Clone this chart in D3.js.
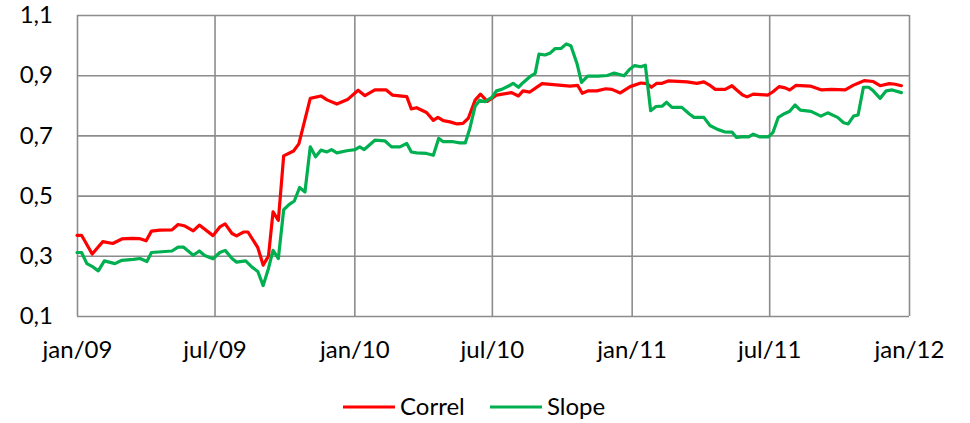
<!DOCTYPE html>
<html>
<head>
<meta charset="utf-8">
<script src="https://cdn.jsdelivr.net/npm/d3@7"></script>
<style>
  html, body { margin: 0; padding: 0; background: #fff; }
  svg { display: block; }
  text { font-family: Lato, "Open Sans", sans-serif; fill: #000; }
</style>
</head>
<body>
<svg id="chart" width="970" height="423"></svg>
<script>
// ---- DATA ----
const seriesNames = ["Correl", "Slope"];
const seriesColors = ["#ff0000", "#00b050"];

const xTickDates = ["2009-01-01", "2009-07-01", "2010-01-01", "2010-07-01", "2011-01-01", "2011-07-01", "2012-01-01"];
const xTickLabels = ["jan/09", "jul/09", "jan/10", "jul/10", "jan/11", "jul/11", "jan/12"];
const yTicks = [0.1, 0.3, 0.5, 0.7, 0.9, 1.1];

const correlDates = [
  "2009-01-01","2009-01-07","2009-01-21","2009-02-04","2009-02-17","2009-03-01","2009-03-14","2009-03-25","2009-04-02","2009-04-09",
  "2009-04-20","2009-05-06","2009-05-14","2009-05-22","2009-06-03","2009-06-11","2009-06-29","2009-07-08","2009-07-15","2009-07-24",
  "2009-07-30","2009-08-08","2009-08-14","2009-08-27","2009-09-03","2009-09-10","2009-09-16","2009-09-23","2009-09-30","2009-10-13",
  "2009-10-20","2009-11-04","2009-11-18","2009-11-26","2009-12-09","2009-12-23","2010-01-06","2010-01-15","2010-01-28","2010-02-12",
  "2010-02-20","2010-03-11","2010-03-17","2010-03-24","2010-04-06","2010-04-15","2010-04-21","2010-04-28","2010-05-07","2010-05-16",
  "2010-05-24","2010-05-31","2010-06-09","2010-06-16","2010-06-25","2010-07-07","2010-07-27","2010-08-05","2010-08-11","2010-08-20",
  "2010-09-05","2010-09-20","2010-10-12","2010-10-22","2010-10-28","2010-11-05","2010-11-16","2010-11-28","2010-12-06","2010-12-17",
  "2010-12-30","2011-01-13","2011-01-21","2011-01-27","2011-02-03","2011-02-10","2011-02-18","2011-03-15","2011-03-28","2011-04-06",
  "2011-04-13","2011-04-21","2011-05-04","2011-05-13","2011-05-20","2011-05-27","2011-06-02","2011-06-10","2011-06-29","2011-07-06",
  "2011-07-14","2011-07-22","2011-07-28","2011-08-05","2011-08-24","2011-09-08","2011-09-21","2011-10-09","2011-10-20","2011-10-26",
  "2011-11-03","2011-11-15","2011-11-24","2011-12-06","2011-12-14","2011-12-22"
];
const correlValues = [
  0.368,0.368,0.306,0.347,0.341,0.356,0.358,0.357,0.350,0.382,
  0.385,0.386,0.404,0.400,0.383,0.402,0.367,0.396,0.406,0.374,
  0.366,0.379,0.379,0.327,0.269,0.299,0.446,0.418,0.632,0.648,
  0.672,0.823,0.831,0.818,0.804,0.819,0.850,0.832,0.851,0.851,
  0.834,0.829,0.788,0.792,0.776,0.750,0.760,0.749,0.745,0.738,
  0.740,0.757,0.817,0.837,0.813,0.834,0.842,0.831,0.848,0.844,
  0.872,0.869,0.864,0.866,0.840,0.848,0.848,0.855,0.853,0.841,
  0.862,0.874,0.872,0.860,0.873,0.873,0.881,0.878,0.873,0.878,
  0.868,0.853,0.853,0.865,0.849,0.834,0.828,0.837,0.834,0.845,
  0.862,0.858,0.851,0.866,0.864,0.851,0.853,0.851,0.867,0.873,
  0.882,0.879,0.865,0.872,0.870,0.865
];

const slopeDates = [
  "2009-01-01","2009-01-07","2009-01-14","2009-01-22","2009-01-29","2009-02-06","2009-02-20","2009-03-01","2009-03-16","2009-03-25",
  "2009-04-03","2009-04-09","2009-05-06","2009-05-14","2009-05-21","2009-06-03","2009-06-11","2009-06-18","2009-06-29","2009-07-08",
  "2009-07-15","2009-07-24","2009-07-30","2009-08-11","2009-08-20","2009-08-27","2009-09-03","2009-09-10","2009-09-16","2009-09-23",
  "2009-09-30","2009-10-07","2009-10-14","2009-10-21","2009-10-28","2009-11-04","2009-11-11","2009-11-18","2009-11-26","2009-12-02",
  "2009-12-09","2009-12-22","2010-01-02","2010-01-08","2010-01-14","2010-01-19","2010-01-28","2010-02-10","2010-02-19","2010-03-02",
  "2010-03-11","2010-03-17","2010-03-24","2010-04-06","2010-04-15","2010-04-22","2010-04-28","2010-05-11","2010-05-20","2010-05-27",
  "2010-06-02","2010-06-09","2010-06-15","2010-06-22","2010-07-01","2010-07-07","2010-07-14","2010-07-23","2010-07-29","2010-08-05",
  "2010-08-11","2010-08-20","2010-08-27","2010-09-01","2010-09-09","2010-09-16","2010-09-22","2010-09-30","2010-10-07","2010-10-13",
  "2010-10-21","2010-10-27","2010-11-04","2010-11-18","2010-11-30","2010-12-09","2010-12-22","2010-12-29","2011-01-05","2011-01-13",
  "2011-01-19","2011-01-26","2011-02-02","2011-02-10","2011-02-16","2011-02-23","2011-03-08","2011-03-18","2011-03-24","2011-04-06",
  "2011-04-14","2011-04-24","2011-05-03","2011-05-13","2011-05-19","2011-05-28","2011-06-04","2011-06-10","2011-06-19","2011-06-30",
  "2011-07-06","2011-07-13","2011-07-21","2011-07-28","2011-08-04","2011-08-11","2011-08-25","2011-09-07","2011-09-16","2011-09-29",
  "2011-10-07","2011-10-13","2011-10-20","2011-10-26","2011-11-02","2011-11-09","2011-11-15","2011-11-24","2011-12-02","2011-12-10",
  "2011-12-22"
];
const slopeValues = [
  0.311,0.311,0.274,0.263,0.250,0.283,0.274,0.285,0.288,0.291,
  0.281,0.311,0.316,0.329,0.329,0.302,0.316,0.301,0.290,0.311,
  0.318,0.291,0.279,0.283,0.261,0.248,0.201,0.258,0.318,0.291,
  0.453,0.470,0.482,0.527,0.512,0.662,0.629,0.651,0.645,0.653,
  0.642,0.649,0.653,0.662,0.653,0.664,0.684,0.682,0.662,0.662,
  0.673,0.645,0.642,0.640,0.634,0.690,0.679,0.679,0.675,0.675,
  0.723,0.797,0.817,0.812,0.826,0.848,0.853,0.864,0.873,0.860,
  0.875,0.895,0.906,0.970,0.967,0.974,0.988,0.989,1.004,0.998,
  0.939,0.876,0.897,0.897,0.899,0.907,0.898,0.919,0.932,0.928,
  0.933,0.782,0.796,0.797,0.810,0.793,0.793,0.771,0.760,0.760,
  0.733,0.720,0.712,0.711,0.693,0.696,0.695,0.704,0.695,0.695,
  0.710,0.760,0.772,0.780,0.801,0.784,0.780,0.764,0.775,0.760,
  0.742,0.738,0.764,0.768,0.860,0.860,0.848,0.823,0.848,0.851,
  0.842
];

// ---- CHART ----
const W = 970, H = 423;
const margin = { top: 15, right: 61, bottom: 107, left: 77 };
const parse = d3.timeParse("%Y-%m-%d");
const svg = d3.select("#chart");

const x = d3.scaleTime()
  .domain([parse(xTickDates[0]), parse(xTickDates[xTickDates.length - 1])])
  .range([margin.left, W - margin.right]);
const y = d3.scaleLinear()
  .domain([yTicks[0], yTicks[yTicks.length - 1]])
  .range([H - margin.bottom, margin.top]);

const gridColor = "#8c8c8c";
const fontSize = 24;
const fontFamily = "Lato, 'Open Sans', sans-serif";

// horizontal gridlines
svg.append("g")
  .attr("transform", `translate(${margin.left},0)`)
  .call(d3.axisLeft(y).tickValues(yTicks).tickSize(-(W - margin.left - margin.right)).tickFormat(""))
  .call(g => g.select(".domain").remove())
  .call(g => g.selectAll("line").attr("stroke", gridColor).attr("stroke-width", 1.6));

// vertical gridlines
svg.append("g")
  .attr("transform", `translate(0,${margin.top})`)
  .call(d3.axisBottom(x).tickValues(xTickDates.map(parse)).tickSize(H - margin.top - margin.bottom).tickFormat(""))
  .call(g => g.select(".domain").remove())
  .call(g => g.selectAll("line").attr("stroke", gridColor).attr("stroke-width", 1.6));

// y labels
const yFmt = d => d3.format(".1f")(d).replace(".", ",");
svg.append("g")
  .attr("transform", `translate(${margin.left},0)`)
  .call(d3.axisLeft(y).tickValues(yTicks).tickSize(0).tickPadding(24).tickFormat(yFmt))
  .call(g => g.select(".domain").remove())
  .call(g => g.selectAll("text").attr("font-size", fontSize).attr("font-family", fontFamily).attr("fill", "#000"));

// x labels
svg.append("g")
  .attr("transform", `translate(0,${H - margin.bottom})`)
  .call(d3.axisBottom(x).tickValues(xTickDates.map(parse)).tickSize(0).tickPadding(25).tickFormat((d, i) => xTickLabels[i]))
  .call(g => g.select(".domain").remove())
  .call(g => g.selectAll("text").attr("font-size", fontSize).attr("font-family", fontFamily).attr("fill", "#000"));

// lines
const series = [
  { name: seriesNames[0], color: seriesColors[0], pts: correlDates.map((d, i) => ({ d: parse(d), v: correlValues[i] })) },
  { name: seriesNames[1], color: seriesColors[1], pts: slopeDates.map((d, i) => ({ d: parse(d), v: slopeValues[i] })) }
];
const line = d3.line().x(p => x(p.d)).y(p => y(p.v));
svg.append("g").selectAll("path").data(series).join("path")
  .attr("d", s => line(s.pts))
  .attr("fill", "none")
  .attr("stroke", s => s.color)
  .attr("stroke-width", 3.2)
  .attr("stroke-linejoin", "round")
  .attr("stroke-linecap", "round");

// legend
const legendY = 407;
const legendItems = [
  { x0: 343, name: seriesNames[0], color: seriesColors[0] },
  { x0: 490, name: seriesNames[1], color: seriesColors[1] }
];
const lg = svg.append("g");
legendItems.forEach(it => {
  lg.append("line").attr("x1", it.x0).attr("x2", it.x0 + 52).attr("y1", legendY).attr("y2", legendY)
    .attr("stroke", it.color).attr("stroke-width", 3.2);
  lg.append("text").attr("x", it.x0 + 57).attr("y", legendY).attr("dy", "0.35em")
    .attr("font-size", fontSize).attr("font-family", fontFamily).text(it.name);
});
</script>
</body>
</html>
